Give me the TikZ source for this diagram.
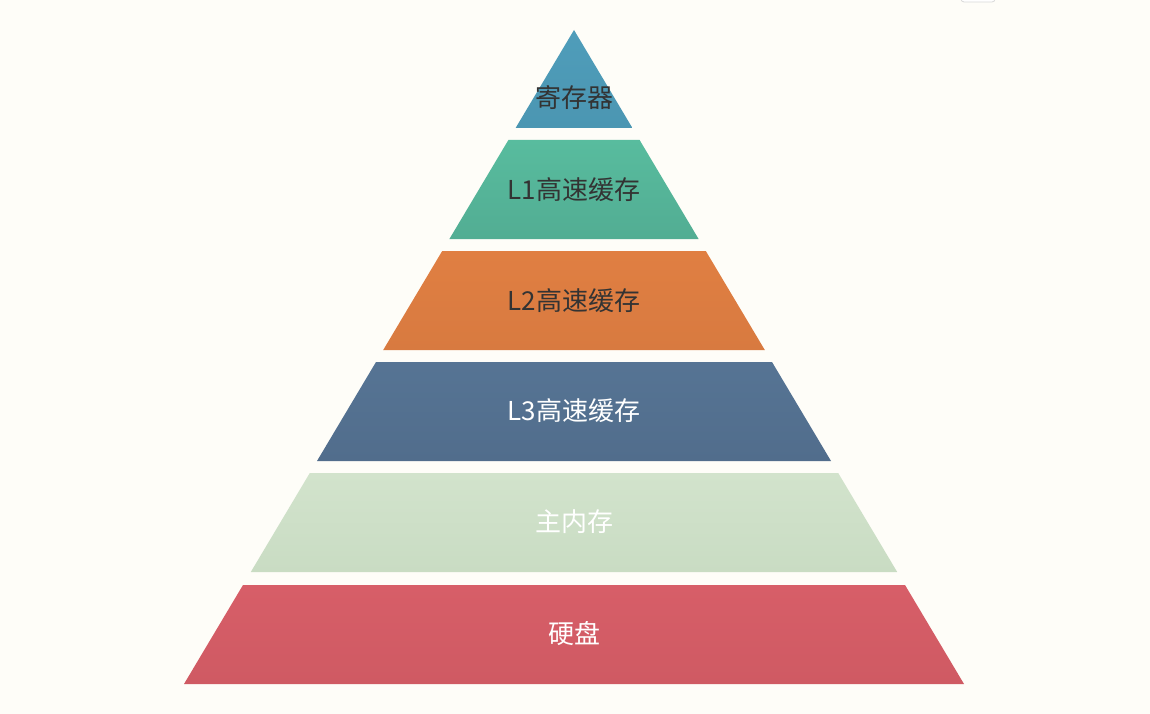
\documentclass[tikz,border=0pt]{standalone}
\usepackage{fontspec}
\newfontfamily\cjk{Noto Sans CJK SC}
\definecolor{bg}{HTML}{FEFDF8}
\definecolor{cA}{HTML}{4F9DBA}
\definecolor{cAd}{HTML}{4B96B2}
\definecolor{cB}{HTML}{58BC9E}
\definecolor{cBd}{HTML}{52AD93}
\definecolor{cC}{HTML}{E07F42}
\definecolor{cCd}{HTML}{D87A40}
\definecolor{cD}{HTML}{567494}
\definecolor{cDd}{HTML}{516D8C}
\definecolor{cE}{HTML}{D2E3CC}
\definecolor{cEd}{HTML}{C9DCC3}
\definecolor{cF}{HTML}{D75E68}
\definecolor{cFd}{HTML}{CF5A63}
\definecolor{darktxt}{HTML}{333333}
\tikzset{
  piece/.style={draw=none},
  lbl/.style={font=\cjk\fontsize{26}{30}\selectfont, inner sep=0pt},
  lbldark/.style={lbl, text=darktxt},
  lbllight/.style={lbl, text=white},
}
\begin{document}
\begin{tikzpicture}[x=1pt,y=-1pt]
\fill[bg] (0,0) rectangle (1150,714);
\useasboundingbox (0,0) rectangle (1150,714);
\draw[draw=black!15, fill=white, rounded corners=3pt, line width=0.8pt] (961,-10) rectangle (995,2);
% pieces
\path[piece, top color=cA, bottom color=cAd] (574,30) -- (632.4,128) -- (515.6,128) -- cycle;
\path[piece, top color=cB, bottom color=cBd] (508.4,140) -- (639.6,140) -- (698.6,239) -- (449.4,239) -- cycle;
\path[piece, top color=cC, bottom color=cCd] (442.2,251) -- (705.8,251) -- (764.8,350) -- (383.2,350) -- cycle;
\path[piece, top color=cD, bottom color=cDd] (376.0,362) -- (772.0,362) -- (831.0,461) -- (317.0,461) -- cycle;
\path[piece, top color=cE, bottom color=cEd] (309.8,473) -- (838.2,473) -- (897.2,572) -- (250.8,572) -- cycle;
\path[piece, top color=cF, bottom color=cFd] (243.0,585) -- (905.0,585) -- (964.0,684) -- (184.0,684) -- cycle;
% labels
\node[lbldark] (reg) at (574,98) {寄存器};
\node[lbldark] (l1) at (574,190) {L1高速缓存};
\node[lbldark] (l2) at (574,301) {L2高速缓存};
\node[lbllight] (l3) at (574,411) {L3高速缓存};
\node[lbllight] (mem) at (574,522) {主内存};
\node[lbllight] (disk) at (574,634) {硬盘};
\end{tikzpicture}
\end{document}
